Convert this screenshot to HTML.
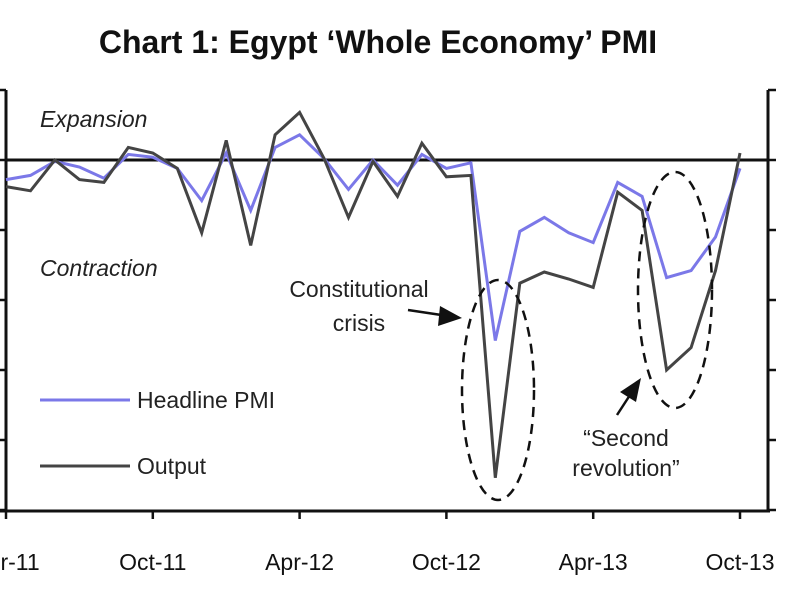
<!DOCTYPE html>
<html><head><meta charset="utf-8"><style>
body{margin:0;background:#fff;width:800px;height:600px;overflow:hidden;font-family:"Liberation Sans",sans-serif}
</style></head><body>
<svg width="800" height="600">
<text x="378" y="53" text-anchor="middle" font-size="32" font-weight="bold" fill="#111">Chart 1: Egypt ‘Whole Economy’ PMI</text>
<g id="axes" stroke="#111" stroke-width="3" fill="none">
<line x1="6" y1="90" x2="6" y2="512"/>
<line x1="768" y1="90" x2="768" y2="512"/>
<line x1="0" y1="511" x2="770" y2="511"/>
<line x1="6" y1="160" x2="768" y2="160"/>
</g>
<g id="ticks" stroke="#111" stroke-width="2.5"></g>
<g id="xlabels" font-size="23" fill="#111"></g>
<text x="40" y="127" font-size="23" font-style="italic" fill="#222">Expansion</text>
<text x="40" y="276" font-size="23" font-style="italic" fill="#222">Contraction</text>
<polyline id="headline" fill="none" stroke="#7b78e8" stroke-width="3"/>
<polyline id="output" fill="none" stroke="#444" stroke-width="3"/>
<ellipse cx="498" cy="390" rx="36" ry="110" fill="none" stroke="#111" stroke-width="2.5" stroke-dasharray="10,7"/>
<ellipse cx="675" cy="290" rx="37" ry="118" fill="none" stroke="#111" stroke-width="2.5" stroke-dasharray="10,7"/>
<text x="359" y="297" font-size="23" text-anchor="middle" fill="#222">Constitutional</text>
<text x="359" y="331" font-size="23" text-anchor="middle" fill="#222">crisis</text>
<line x1="408" y1="310" x2="448" y2="316" stroke="#111" stroke-width="2.5"/>
<polygon points="462,318 440,306 438,326" fill="#111"/>
<text x="626" y="446" font-size="23" text-anchor="middle" fill="#222">“Second</text>
<text x="626" y="476" font-size="23" text-anchor="middle" fill="#222">revolution”</text>
<line x1="617" y1="415" x2="630" y2="395" stroke="#111" stroke-width="2.5"/>
<polygon points="641,378 620,392 636,402" fill="#111"/>
<line x1="40" y1="400" x2="130" y2="400" stroke="#7b78e8" stroke-width="3"/>
<text x="137" y="408" font-size="23" fill="#222">Headline PMI</text>
<line x1="40" y1="466" x2="130" y2="466" stroke="#444" stroke-width="3"/>
<text x="137" y="474" font-size="23" fill="#222">Output</text>
</svg>
<script>
const months=31;
const xTickLabels=["Apr-11","Oct-11","Apr-12","Oct-12","Apr-13","Oct-13"];
const yTicks=[55,50,45,40,35,30,25];
const headline=[48.6,48.9,49.9,49.5,48.7,50.4,50.2,49.4,47.1,50.5,46.4,50.9,51.8,50.1,47.9,50.0,48.2,50.4,49.4,49.8,37.1,44.9,45.9,44.8,44.1,48.4,47.4,41.6,42.1,44.5,49.4];
const output=[48.1,47.8,50.0,48.6,48.4,50.9,50.5,49.4,44.8,51.4,43.9,51.8,53.4,50.1,45.9,49.9,47.4,51.2,48.8,48.9,27.3,41.2,42.0,41.5,40.9,47.7,46.4,35.0,36.6,42.1,50.5];
const x=i=>6+i*(734/30);
const y=v=>160-(v-50)*14;
const ns="http://www.w3.org/2000/svg";
function pts(a){return a.map((v,i)=>x(i).toFixed(1)+","+y(v).toFixed(1)).join(" ");}
document.getElementById('headline').setAttribute('points',pts(headline));
document.getElementById('output').setAttribute('points',pts(output));
const tg=document.getElementById('ticks');
yTicks.forEach(v=>{
 const l=document.createElementNS(ns,'line');
 l.setAttribute('x1',768);l.setAttribute('x2',776);l.setAttribute('y1',y(v));l.setAttribute('y2',y(v));
 
 
 tg.appendChild(l);
 const m=document.createElementNS(ns,'line');
 m.setAttribute('x1',0);m.setAttribute('x2',6);m.setAttribute('y1',y(v));m.setAttribute('y2',y(v));
 
 
 tg.appendChild(m);
});
const xg=document.getElementById('xlabels');
xTickLabels.forEach((s,k)=>{
 const xi=x(k*6);
 const l=document.createElementNS(ns,'line');
 l.setAttribute('x1',xi);l.setAttribute('x2',xi);l.setAttribute('y1',511);l.setAttribute('y2',519);
 
 
 tg.appendChild(l);
 const t=document.createElementNS(ns,'text');
 t.setAttribute('x',xi);t.setAttribute('y',570);t.setAttribute('text-anchor','middle');
 t.textContent=s;
 
 
 xg.appendChild(t);
});
</script>
</body></html>
